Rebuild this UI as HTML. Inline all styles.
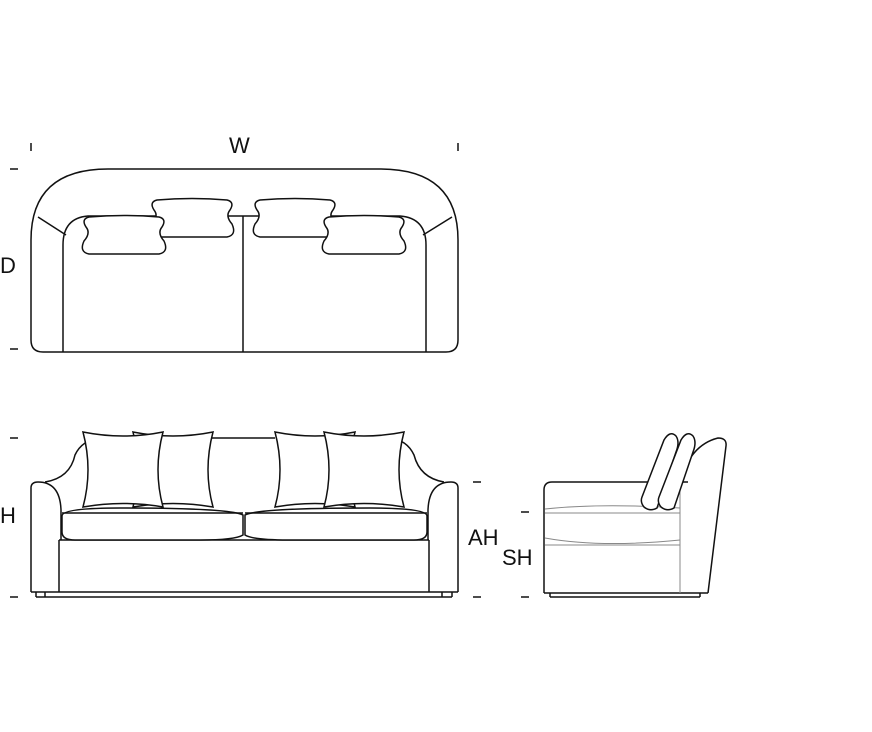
<!DOCTYPE html>
<html><head><meta charset="utf-8"><style>
html,body{margin:0;padding:0;background:#fff;width:872px;height:732px;overflow:hidden}
svg{display:block}
text{font-family:"Liberation Sans",sans-serif;font-size:22px;fill:#111}
</style></head><body>
<svg width="872" height="732" viewBox="0 0 872 732" xmlns="http://www.w3.org/2000/svg">
<defs>
<path id="pl" d="M5,2 Q40,-1 75,2 Q83,4 78,12 Q73,18 80,26 Q85,37 75,39 L5,39 Q-5,37 0,26 Q7,18 2,12 Q-3,4 5,2 Z"/>
<path id="fp" d="M0,0 Q40,8 80,0 Q70,38 80,75 Q40,68 0,75 Q10,38 0,0 Z"/>
</defs>
<g fill="none" stroke="#111" stroke-width="1.5">
<!-- dimension ticks -->
<line x1="10" y1="169" x2="18" y2="169"/>
<line x1="10" y1="349" x2="18" y2="349"/>
<line x1="10" y1="438" x2="18" y2="438"/>
<line x1="10" y1="597" x2="18" y2="597"/>
<line x1="31" y1="143" x2="31" y2="151"/>
<line x1="458" y1="143" x2="458" y2="151"/>
<line x1="473" y1="482" x2="481" y2="482"/>
<line x1="473" y1="597" x2="481" y2="597"/>
<line x1="521" y1="512" x2="529" y2="512"/>
<line x1="521" y1="597" x2="529" y2="597"/>

<!-- TOP VIEW -->
<path d="M31,240 Q31,169 108,169 L380,169 Q458,169 458,240 L458,340 Q458,352 446,352 L43,352 Q31,352 31,340 Z"/>
<path d="M63,352 L63,245 Q63,218 88,216 L400,216 Q426,218 426,245 L426,352"/>
<line x1="38" y1="217" x2="66" y2="235"/>
<line x1="452" y1="217" x2="423" y2="235"/>
<line x1="243" y1="216" x2="243" y2="352"/>
<g fill="#fff">
<use href="#pl" x="152" y="198"/>
<use href="#pl" x="255" y="198"/>
<use href="#pl" x="84" y="215"/>
<use href="#pl" x="324" y="215"/>
</g>

<!-- FRONT VIEW -->
<path d="M165,438 L275,438"/>
<path d="M45,482 Q70,478 75,455 Q82,440 100,438"/>
<path d="M444,482 Q420,478 414,455 Q407,440 390,438"/>
<path d="M31,592 L31,488 Q31,482 38,482 Q60,482 61,510 L61,540"/>
<path d="M458,592 L458,488 Q458,482 451,482 Q429,482 428,510 L428,540"/>
<line x1="59" y1="540" x2="59" y2="592"/>
<line x1="429" y1="540" x2="429" y2="592"/>
<line x1="31" y1="592" x2="458" y2="592"/>
<line x1="59" y1="540" x2="429" y2="540"/>
<line x1="36" y1="597" x2="452" y2="597"/>
<line x1="36" y1="592" x2="36" y2="597"/>
<line x1="45" y1="592" x2="45" y2="597"/>
<line x1="442" y1="592" x2="442" y2="597"/>
<line x1="452" y1="592" x2="452" y2="597"/>
<g fill="#fff">
<use href="#fp" x="133" y="432"/>
<use href="#fp" x="275" y="432"/>
<use href="#fp" x="83" y="432"/>
<use href="#fp" x="324" y="432"/>
</g>
<path fill="#fff" d="M62,516 Q62,508 120,508 Q230,508 243,515 L243,535 Q235,540 200,540 L75,540 Q62,540 62,532 Z"/>
<path fill="#fff" d="M427,516 Q427,508 370,508 Q258,508 245,515 L245,535 Q253,540 288,540 L414,540 Q427,540 427,532 Z"/>
<line x1="62" y1="513" x2="243" y2="513"/>
<line x1="245" y1="513" x2="427" y2="513"/>

<!-- SIDE VIEW -->
<path d="M544,593 L544,490 Q544,482 552,482 L688,482"/>
<path d="M680,482 Q690,445 718,438 Q727,438 726,446 L708,593"/>
<line x1="544" y1="593" x2="708" y2="593"/>
<line x1="550" y1="597" x2="700" y2="597"/>
<line x1="550" y1="593" x2="550" y2="597"/>
<line x1="700" y1="593" x2="700" y2="597"/>
<g stroke="#888" stroke-width="1">
<path d="M545,509 Q600,503 680,508"/>
<line x1="545" y1="513" x2="680" y2="513"/>
<path d="M545,538 Q600,548 680,540"/>
<line x1="545" y1="545" x2="680" y2="545"/>
<line x1="680" y1="490" x2="680" y2="593"/>
</g>
<path fill="#fff" d="M642,497 L664,440 Q670,430 676,436 Q680,442 676,452 L657,508 Q650,512 644,507 Q640,502 642,497 Z"/>
<path fill="#fff" d="M659,497 L681,440 Q687,430 693,436 Q697,442 693,452 L674,508 Q667,512 661,507 Q657,502 659,497 Z"/>
</g>
<text x="229" y="153">W</text>
<text x="0" y="273">D</text>
<text x="0" y="523">H</text>
<text x="468" y="545">AH</text>
<text x="502" y="565">SH</text>
</svg>
</body></html>
